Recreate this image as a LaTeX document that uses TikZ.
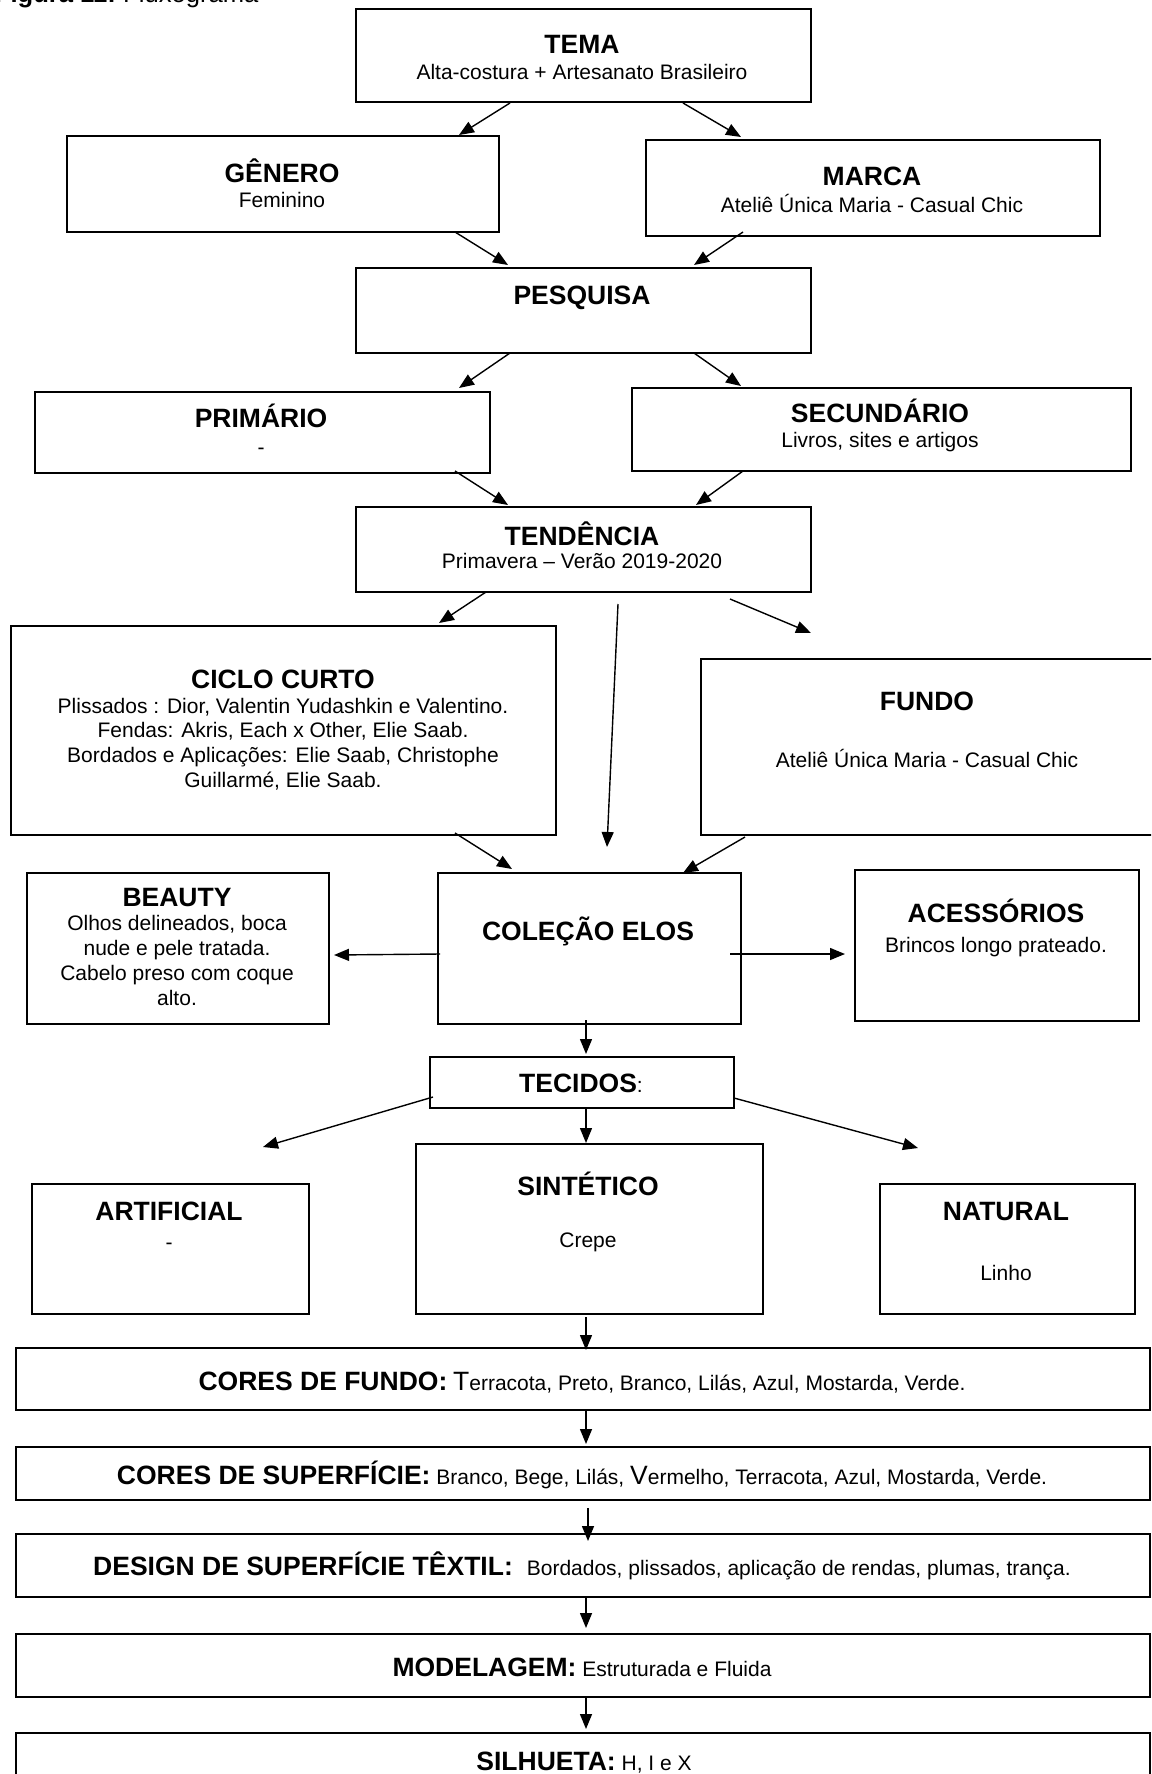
\documentclass[tikz,border=0pt]{standalone}
\usepackage{fontspec}
\setmainfont{Liberation Sans}
\usetikzlibrary{arrows.meta,calc}
\tikzset{
  box/.style={draw, line width=1.8pt, inner sep=0pt, anchor=north west},
  ttl/.style={inner sep=0pt, anchor=base, font=\fontsize{26.5}{30}\selectfont\bfseries},
  txt/.style={inner sep=0pt, anchor=base, font=\fontsize{21}{25}\selectfont},
  arr/.style={line width=1.4pt, -{Triangle[length=15pt,width=12pt]}},
}
\newcommand{\capbigx}[1]{{\fontsize{26.5}{30}\selectfont #1}}
\newcommand{\bldx}[1]{{\fontsize{26.5}{30}\selectfont\bfseries #1}}
\begin{document}
\begin{tikzpicture}[x=1pt,y=-1pt]
\useasboundingbox (0,0) rectangle (1151,1774);
\clip (0,0) rectangle (1151,1774);
\fill[white] (0,0) rectangle (1151,1774);

% title
\node[inner sep=0pt, anchor=base west, font=\fontsize{25.6}{30}\selectfont] (flux) at (123,3) {Fluxograma};
\node[inner sep=0pt, anchor=base east, font=\fontsize{25.6}{30}\selectfont\bfseries] (fig) at ($(flux.base west)+(-7,0)$) {Figura 11:};

% boxes
\node[box, minimum width=455pt, minimum height=93pt] (tema) at (355,8) {};
\node[box, minimum width=432pt, minimum height=96pt] (genero) at (66,135) {};
\node[box, minimum width=454pt, minimum height=96pt] (marca) at (645,139) {};
\node[box, minimum width=455pt, minimum height=85pt] (pesquisa) at (355,267) {};
\node[box, minimum width=455pt, minimum height=81pt] (primario) at (34,391) {};
\node[box, minimum width=499pt, minimum height=83pt] (secundario) at (631,387) {};
\node[box, minimum width=455pt, minimum height=85pt] (tendencia) at (355,506) {};
\node[box, minimum width=545pt, minimum height=209pt] (ciclo) at (10,625) {};
\node[box, minimum width=470pt, minimum height=176pt] (fundo) at (700,658) {};
\node[box, minimum width=302pt, minimum height=151pt] (beauty) at (26,872) {};
\node[box, minimum width=303pt, minimum height=151pt] (colecao) at (437,872) {};
\node[box, minimum width=284pt, minimum height=151pt] (acessorios) at (854,869) {};
\node[box, minimum width=304pt, minimum height=51pt] (tecidos) at (429,1056) {};
\node[box, minimum width=277pt, minimum height=130pt] (artificial) at (31,1183) {};
\node[box, minimum width=347pt, minimum height=170pt] (sintetico) at (415,1143) {};
\node[box, minimum width=255pt, minimum height=130pt] (natural) at (879,1183) {};
\node[box, minimum width=1134pt, minimum height=62pt] (coresf) at (15,1347) {};
\node[box, minimum width=1134pt, minimum height=53pt] (coress) at (15,1446) {};
\node[box, minimum width=1134pt, minimum height=63pt] (design) at (15,1533) {};
\node[box, minimum width=1134pt, minimum height=63pt] (modelagem) at (15,1633) {};
\node[box, minimum width=1134pt, minimum height=80pt] (silhueta) at (15,1732) {};

% texts
\node[ttl] (temaT) at (582,54) {TEMA};
\node[txt] (temaS) at (582,80) {Alta-costura + Artesanato Brasileiro};
\node[ttl] (generoT) at (282,182) {GÊNERO};
\node[txt] (generoS) at (282,207) {Feminino};
\node[ttl] (marcaT) at (872,185) {MARCA};
\node[txt] (marcaS) at (872,212) {Ateliê Única Maria - Casual Chic};
\node[ttl] (pesquisaT) at (582,304) {PESQUISA};
\node[ttl] (primarioT) at (261,427) {PRIMÁRIO};
\node[txt] (primarioS) at (261,454) {-};
\node[ttl] (secundarioT) at (880,422) {SECUNDÁRIO};
\node[txt] (secundarioS) at (880,447) {Livros, sites e artigos};
\node[ttl] (tendenciaT) at (582,545) {TENDÊNCIA};
\node[txt] (tendenciaS) at (582,568) {Primavera – Verão 2019-2020};
\node[ttl] (cicloT) at (283,688) {CICLO CURTO};
\node[txt] (cicloA) at (283,713) {Plissados : Dior, Valentin Yudashkin e Valentino.};
\node[txt] (cicloB) at (283,737) {Fendas: Akris, Each x Other, Elie Saab.};
\node[txt] (cicloC) at (283,762) {Bordados e Aplicações: Elie Saab, Christophe};
\node[txt] (cicloD) at (283,787) {Guillarmé, Elie Saab.};
\node[ttl] (fundoT) at (927,710) {FUNDO};
\node[txt] (fundoS) at (927,767) {Ateliê Única Maria - Casual Chic};
\node[ttl] (beautyT) at (177,906) {BEAUTY};
\node[txt] (beautyA) at (177,930) {Olhos delineados, boca};
\node[txt] (beautyB) at (177,955) {nude e pele tratada.};
\node[txt] (beautyC) at (177,980) {Cabelo preso com coque};
\node[txt] (beautyD) at (177,1005) {alto.};
\node[ttl] (colecaoT) at (588,940) {COLEÇÃO ELOS};
\node[ttl] (acessoriosT) at (996,922) {ACESSÓRIOS};
\node[txt] (acessoriosS) at (996,952) {Brincos longo prateado.};
\node[txt] (tecidosT) at (581,1092) {\bldx{TECIDOS}:};
\node[ttl] (sinteticoT) at (588,1195) {SINTÉTICO};
\node[txt] (sinteticoS) at (588,1247) {Crepe};
\node[ttl] (artificialT) at (169,1220) {ARTIFICIAL};
\node[txt] (artificialS) at (169,1249) {-};
\node[ttl] (naturalT) at (1006,1220) {NATURAL};
\node[txt] (naturalS) at (1006,1280) {Linho};
\node[txt] (coresfT) at (582,1390) {\bldx{CORES DE FUNDO:} \capbigx{T}erracota, Preto, Branco, Lilás, Azul, Mostarda, Verde.};
\node[txt] (coressT) at (582,1484) {\bldx{CORES DE SUPERFÍCIE:} Branco, Bege, Lilás, \capbigx{V}ermelho, Terracota, Azul, Mostarda, Verde.};
\node[txt] (designT) at (582,1575) {\bldx{DESIGN DE SUPERFÍCIE TÊXTIL:}\hspace{14pt}Bordados, plissados, aplicação de rendas, plumas, trança.};
\node[txt] (modelagemT) at (582,1676) {\bldx{MODELAGEM:} Estruturada e Fluida};
\node[txt] (silhuetaT) at (584,1770) {\bldx{SILHUETA:} H, I e X};

% connector end points
\coordinate (a1s) at (510,103); \coordinate (a1e) at (459,135);
\coordinate (a2s) at (683,103); \coordinate (a2e) at (741,137);
\coordinate (a3s) at (455,232); \coordinate (a3e) at (508,265);
\coordinate (a4s) at (743,232); \coordinate (a4e) at (694,265);
\coordinate (a5s) at (510,353); \coordinate (a5e) at (459,388);
\coordinate (a6s) at (694,353); \coordinate (a6e) at (741,386);
\coordinate (a7s) at (455,471); \coordinate (a7e) at (508,505);
\coordinate (a8s) at (743,471); \coordinate (a8e) at (696,505);
\coordinate (a9s) at (486,592); \coordinate (a9e) at (439,623);
\coordinate (a10s) at (618,604); \coordinate (a10e) at (607,847);
\coordinate (a11s) at (730,599); \coordinate (a11e) at (811,633);
\coordinate (a12s) at (455,833); \coordinate (a12e) at (512,869);
\coordinate (a13s) at (745,837); \coordinate (a13e) at (683,873);
\coordinate (a14s) at (440,954); \coordinate (a14e) at (334,955);
\coordinate (a15s) at (730,954); \coordinate (a15e) at (845,954);
\coordinate (a16s) at (586,1020); \coordinate (a16e) at (586,1054);
\coordinate (a17s) at (433,1097); \coordinate (a17e) at (263,1147);
\coordinate (a18s) at (586,1108); \coordinate (a18e) at (586,1143);
\coordinate (a19s) at (734,1098); \coordinate (a19e) at (918,1148);
\coordinate (a20s) at (586,1317); \coordinate (a20e) at (586,1350);
\coordinate (a21s) at (586,1411); \coordinate (a21e) at (586,1444);
\coordinate (a22s) at (588,1508); \coordinate (a22e) at (588,1541);
\coordinate (a23s) at (586,1596); \coordinate (a23e) at (586,1628);
\coordinate (a24s) at (586,1697); \coordinate (a24e) at (586,1729);

\foreach \i in {1,...,24} { \draw[arr] (a\i s) -- (a\i e); }
\end{tikzpicture}
\end{document}
